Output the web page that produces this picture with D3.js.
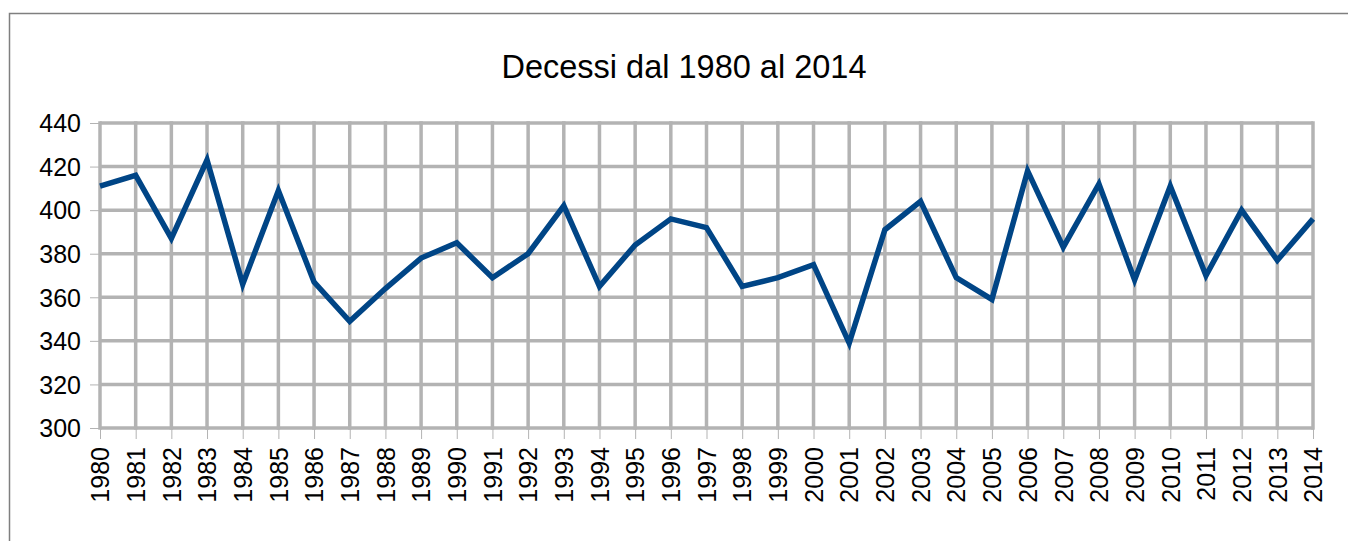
<!DOCTYPE html>
<html>
<head>
<meta charset="utf-8">
<script src="https://cdn.jsdelivr.net/npm/d3@7"></script>
<style>
body{margin:0;background:#fff;}
text{font-family:"Liberation Sans",Arial,sans-serif;fill:#000;}
</style>
</head>
<body>
<svg id="chart"></svg>
<script>
var years = [1980,1981,1982,1983,1984,1985,1986,1987,1988,1989,1990,1991,1992,1993,1994,1995,1996,1997,1998,1999,2000,2001,2002,2003,2004,2005,2006,2007,2008,2009,2010,2011,2012,2013,2014]
var decessi = [411,416,387,423,366,409,367,349,364,378,385,369,380,402,365,384,396,392,365,369,375,339,391,404,369,359,418,383,412,368,411,370,400,377,396]
var yTicks = [300,320,340,360,380,400,420,440]
var title = "Decessi dal 1980 al 2014"

var screen = {width:1348,height:541}
var margin = {top:123, right:35, bottom:113, left:100}
var w = screen.width-margin.left-margin.right
var h = screen.height-margin.top-margin.bottom

var svg = d3.select("#chart")
            .attr("width", screen.width)
            .attr("height", screen.height)

// outer frame (runs off the right and bottom edge like the original)
svg.append("rect")
   .attr("x", 9.5)
   .attr("y", 13.5)
   .attr("width", 1500)
   .attr("height", 700)
   .attr("fill", "none")
   .attr("stroke", "#7f7f7f")
   .attr("stroke-width", 1.5)

svg.append("text")
   .attr("x", 684)
   .attr("y", 78)
   .attr("text-anchor", "middle")
   .style("font-size", "32.5px")
   .text(title)

var xScale = d3.scalePoint()
               .domain(years)
               .range([0,w])

var yScale = d3.scaleLinear()
               .domain([300,440])
               .range([h,0])

var chart = svg.append("g")
               .attr("transform", "translate(" + margin.left + "," + margin.top + ")")

// grid
chart.selectAll(".hgrid")
     .data(yTicks)
     .enter()
     .append("line")
     .attr("class", "hgrid")
     .attr("x1", 0)
     .attr("x2", w)
     .attr("y1", function(d){return yScale(d)})
     .attr("y2", function(d){return yScale(d)})
     .attr("stroke", "#b3b3b3")
     .attr("stroke-width", 3.5)

chart.selectAll(".vgrid")
     .data(years)
     .enter()
     .append("line")
     .attr("class", "vgrid")
     .attr("x1", function(d){return xScale(d)})
     .attr("x2", function(d){return xScale(d)})
     .attr("y1", yScale(440)-1.75)
     .attr("y2", h+1.75)
     .attr("stroke", "#b3b3b3")
     .attr("stroke-width", 3.5)

// axes
var yAxis = d3.axisLeft(yScale)
              .tickValues(yTicks)
              .tickSize(10)
              .tickPadding(9)

var gy = chart.append("g")
              .attr("id", "yAxis")
              .call(yAxis)
gy.select(".domain").remove()
gy.selectAll("line").attr("stroke", "#b3b3b3")
gy.selectAll("text")
  .style("font-size", "25px")
  .attr("dy", "0.35em")

var xAxis = d3.axisBottom(xScale)
              .tickSize(11)

var gx = chart.append("g")
              .attr("id", "xAxis")
              .attr("transform", "translate(0," + h + ")")
              .call(xAxis)
gx.select(".domain").remove()
gx.selectAll("line").attr("stroke", "#b3b3b3")
gx.selectAll("text")
  .style("font-size", "25px")
  .attr("text-anchor", "end")
  .attr("transform", "rotate(-90)")
  .attr("x", -19)
  .attr("y", 0)
  .attr("dy", "0.35em")

// data line
var line = d3.line()
             .x(function(d,i){return xScale(years[i])})
             .y(function(d){return yScale(d)})

chart.append("path")
     .datum(decessi)
     .attr("d", line)
     .attr("fill", "none")
     .attr("stroke", "#004586")
     .attr("stroke-width", 5.5)
     .attr("stroke-linejoin", "miter")
</script>
</body>
</html>
